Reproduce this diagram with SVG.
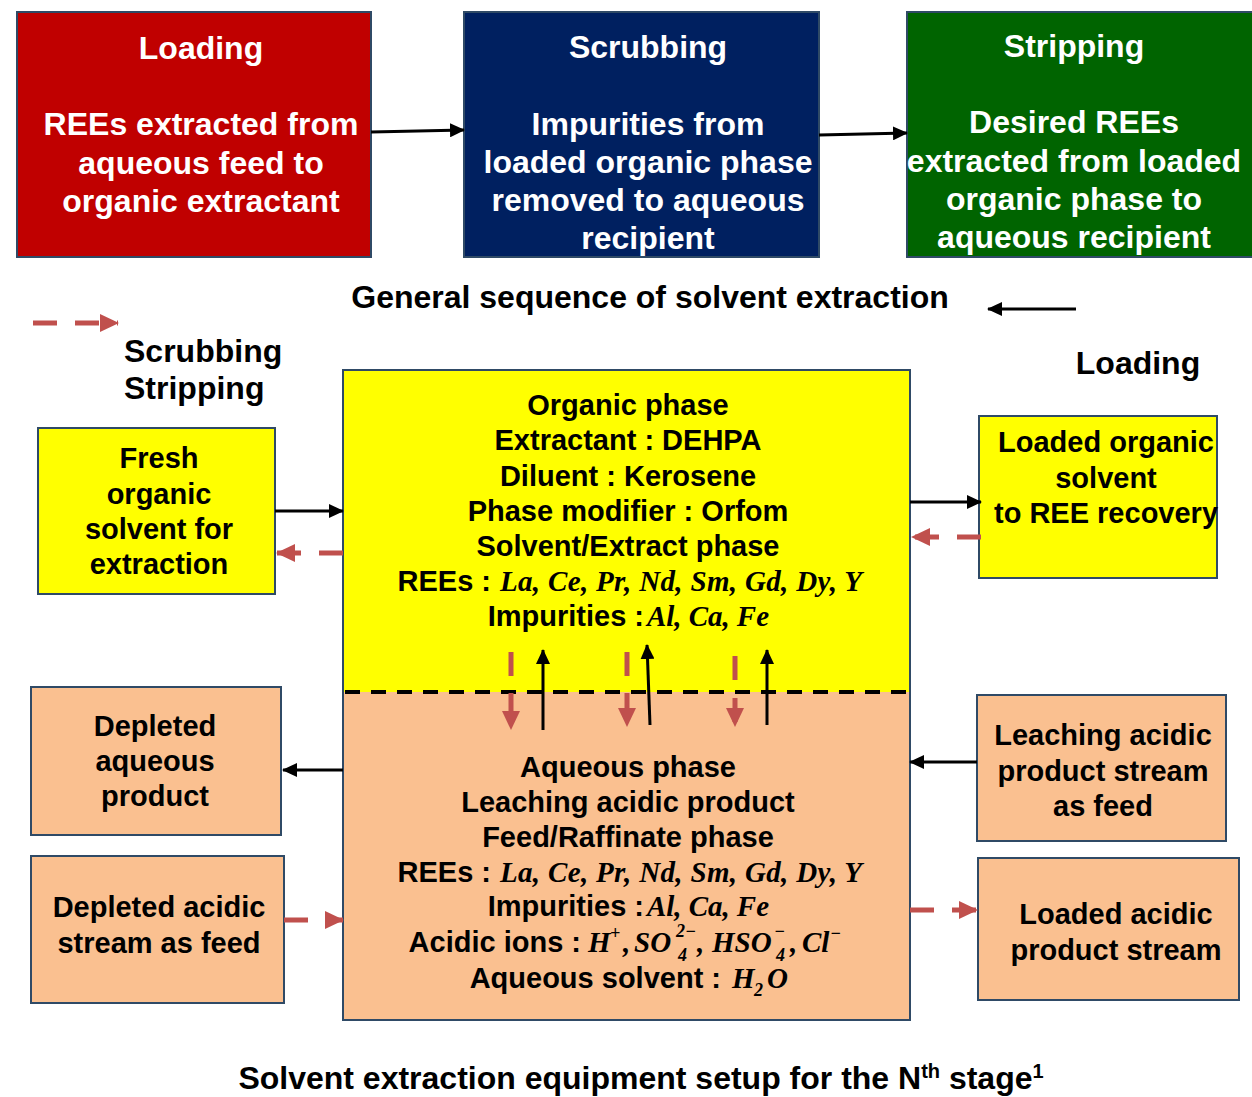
<svg xmlns="http://www.w3.org/2000/svg" width="1252" height="1097" viewBox="0 0 1252 1097">
<style>
text{font-family:"Liberation Sans",Arial,sans-serif;font-weight:bold;fill:#000;text-anchor:middle}
.t31{font-size:32px}
.t29{font-size:29px}
.w{fill:#fff}
.m{font-family:"Liberation Serif","Times New Roman",serif;font-style:italic;font-weight:bold;font-size:29px;text-anchor:start}
.ms{font-family:"Liberation Serif","Times New Roman",serif;font-style:italic;font-weight:bold;font-size:18px;text-anchor:start}
.box{stroke:#2F4A66;stroke-width:2}
.blk{stroke:#000;stroke-width:3;fill:none}
.red{stroke:#C0504D;stroke-width:5;fill:none;stroke-dasharray:24 18}
</style>
<defs>
<marker id="ab" markerUnits="userSpaceOnUse" markerWidth="15" markerHeight="14" refX="14" refY="7" orient="auto"><path d="M0,0 L15,7 L0,14 z" fill="#000"/></marker>
<marker id="ar" markerUnits="userSpaceOnUse" markerWidth="19" markerHeight="18" refX="18" refY="9" orient="auto"><path d="M0,0 L19,9 L0,18 z" fill="#C0504D"/></marker>
</defs>
<rect width="1252" height="1097" fill="#fff"/>

<g id="loading">
<rect class="box" x="17" y="12" width="354" height="245" fill="#C00000"/>
<text class="t31 w" x="201" y="59">Loading</text>
<text class="t31 w" x="201" y="135">REEs extracted from</text>
<text class="t31 w" x="201" y="174">aqueous feed to</text>
<text class="t31 w" x="201" y="212">organic extractant</text>
</g>
<g id="scrubbing">
<rect class="box" x="464" y="12" width="355" height="245" fill="#002060"/>
<text class="t31 w" x="648" y="58">Scrubbing</text>
<text class="t31 w" x="648" y="135">Impurities from</text>
<text class="t31 w" x="648" y="173">loaded organic phase</text>
<text class="t31 w" x="648" y="211">removed to aqueous</text>
<text class="t31 w" x="648" y="249">recipient</text>
</g>
<g id="stripping">
<rect class="box" x="907" y="12" width="350" height="245" fill="#006400"/>
<text class="t31 w" x="1074" y="57">Stripping</text>
<text class="t31 w" x="1074" y="133">Desired REEs</text>
<text class="t31 w" x="1074" y="172">extracted from loaded</text>
<text class="t31 w" x="1074" y="210">organic phase to</text>
<text class="t31 w" x="1074" y="248">aqueous recipient</text>
</g>

<g id="labels">
<text class="t31" x="650" y="308">General sequence of solvent extraction</text>
<text class="t31" x="124" y="362" style="text-anchor:start">Scrubbing</text>
<text class="t31" x="124" y="399" style="text-anchor:start">Stripping</text>
<text class="t31" x="1138" y="374">Loading</text>
<text class="t31" x="641" y="1089">Solvent extraction equipment setup for the N<tspan font-size="20" dy="-11">th</tspan><tspan dy="11"> stage</tspan><tspan font-size="20" dy="-11">1</tspan></text>
</g>

<g id="main">
<rect x="343" y="370" width="567" height="322" fill="#FFFF00"/>
<rect x="343" y="692" width="567" height="328" fill="#FAC090"/>
<rect class="box" x="343" y="370" width="567" height="650" fill="none"/>
<line x1="345" y1="692" x2="910" y2="692" stroke="#000" stroke-width="4" stroke-dasharray="15 11"/>
<text class="t29" x="628" y="415">Organic phase</text>
<text class="t29" x="628" y="450">Extractant : DEHPA</text>
<text class="t29" x="628" y="486">Diluent : Kerosene</text>
<text class="t29" x="628" y="521">Phase modifier : Orfom</text>
<text class="t29" x="628" y="556">Solvent/Extract phase</text>
<text class="t29" x="491" y="591" style="text-anchor:end">REEs :</text>
<text class="m" x="500" y="591" textLength="362" lengthAdjust="spacing">La, Ce, Pr, Nd, Sm, Gd, Dy, Y</text>
<text class="t29" x="644" y="626" style="text-anchor:end">Impurities :</text>
<text class="m" x="647" y="626" textLength="122" lengthAdjust="spacing">Al, Ca, Fe</text>

<text class="t29" x="628" y="777">Aqueous phase</text>
<text class="t29" x="628" y="812">Leaching acidic product</text>
<text class="t29" x="628" y="847">Feed/Raffinate phase</text>
<text class="t29" x="491" y="882" style="text-anchor:end">REEs :</text>
<text class="m" x="500" y="882" textLength="362" lengthAdjust="spacing">La, Ce, Pr, Nd, Sm, Gd, Dy, Y</text>
<text class="t29" x="644" y="916" style="text-anchor:end">Impurities :</text>
<text class="m" x="647" y="916" textLength="122" lengthAdjust="spacing">Al, Ca, Fe</text>
<text class="t29" x="581" y="952" style="text-anchor:end">Acidic ions :</text>
<text class="m" x="588" y="952">H</text>
<text class="ms" x="610" y="939">+</text>
<text class="m" x="623" y="952">,</text>
<text class="m" x="634" y="952">SO</text>
<text class="ms" x="676" y="937">2−</text>
<text class="ms" x="678" y="961">4</text>
<text class="m" x="697" y="952">,</text>
<text class="m" x="712" y="952">HSO</text>
<text class="ms" x="774" y="937">−</text>
<text class="ms" x="776" y="961">4</text>
<text class="m" x="790" y="952">,</text>
<text class="m" x="802" y="952">Cl</text>
<text class="ms" x="830" y="939">−</text>
<text class="t29" x="721" y="988" style="text-anchor:end">Aqueous solvent :</text>
<text class="m" x="732" y="988">H</text>
<text class="ms" x="754" y="996">2</text>
<text class="m" x="767" y="988">O</text>
</g>

<g id="fresh">
<rect class="box" x="38" y="428" width="237" height="166" fill="#FFFF00"/>
<text class="t29" x="159" y="468">Fresh</text>
<text class="t29" x="159" y="504">organic</text>
<text class="t29" x="159" y="539">solvent for</text>
<text class="t29" x="159" y="574">extraction</text>
</g>
<g id="depleted-aqueous">
<rect class="box" x="31" y="687" width="250" height="148" fill="#FAC090"/>
<text class="t29" x="155" y="736">Depleted</text>
<text class="t29" x="155" y="771">aqueous</text>
<text class="t29" x="155" y="806">product</text>
</g>
<g id="depleted-acidic">
<rect class="box" x="31" y="856" width="253" height="147" fill="#FAC090"/>
<text class="t29" x="159" y="917">Depleted acidic</text>
<text class="t29" x="159" y="953">stream as feed</text>
</g>
<g id="loaded-organic">
<rect class="box" x="979" y="416" width="238" height="162" fill="#FFFF00"/>
<text class="t29" x="1106" y="452">Loaded organic</text>
<text class="t29" x="1106" y="488">solvent</text>
<text class="t29" x="1106" y="523">to REE recovery</text>
</g>
<g id="leaching">
<rect class="box" x="977" y="695" width="249" height="146" fill="#FAC090"/>
<text class="t29" x="1103" y="745">Leaching acidic</text>
<text class="t29" x="1103" y="781">product stream</text>
<text class="t29" x="1103" y="816">as feed</text>
</g>
<g id="loaded-acidic">
<rect class="box" x="978" y="858" width="261" height="142" fill="#FAC090"/>
<text class="t29" x="1116" y="924">Loaded acidic</text>
<text class="t29" x="1116" y="960">product stream</text>
</g>

<g id="connectors">
<line class="blk" x1="371" y1="132" x2="464" y2="130" marker-end="url(#ab)"/>
<line class="blk" x1="819" y1="135" x2="907" y2="133" marker-end="url(#ab)"/>
<line class="blk" x1="1076" y1="309" x2="988" y2="309" marker-end="url(#ab)"/>
<line class="red" x1="33" y1="323" x2="118" y2="323" marker-end="url(#ar)"/>

<line class="blk" x1="275" y1="511" x2="343" y2="511" marker-end="url(#ab)"/>
<line class="red" x1="343" y1="553" x2="277" y2="553" marker-end="url(#ar)"/>
<line class="blk" x1="343" y1="770" x2="283" y2="770" marker-end="url(#ab)"/>
<line class="red" x1="284" y1="920" x2="343" y2="920" marker-end="url(#ar)"/>

<line class="blk" x1="910" y1="502" x2="981" y2="502" marker-end="url(#ab)"/>
<line class="red" x1="981" y1="537" x2="912" y2="537" marker-end="url(#ar)"/>
<line class="blk" x1="977" y1="762" x2="910" y2="762" marker-end="url(#ab)"/>
<line class="red" x1="910" y1="910" x2="977" y2="910" marker-end="url(#ar)"/>

<line class="red" x1="511" y1="652" x2="511" y2="729" style="stroke-dasharray:24 17" marker-end="url(#ar)"/>
<line class="red" x1="627" y1="652" x2="627" y2="726" style="stroke-dasharray:24 17" marker-end="url(#ar)"/>
<line class="red" x1="735" y1="656" x2="735" y2="726" style="stroke-dasharray:24 18" marker-end="url(#ar)"/>
<line class="blk" x1="543" y1="730" x2="543" y2="650" marker-end="url(#ab)"/>
<line class="blk" x1="650" y1="725" x2="647" y2="645" marker-end="url(#ab)"/>
<line class="blk" x1="767" y1="725" x2="767" y2="650" marker-end="url(#ab)"/>
</g>
</svg>
